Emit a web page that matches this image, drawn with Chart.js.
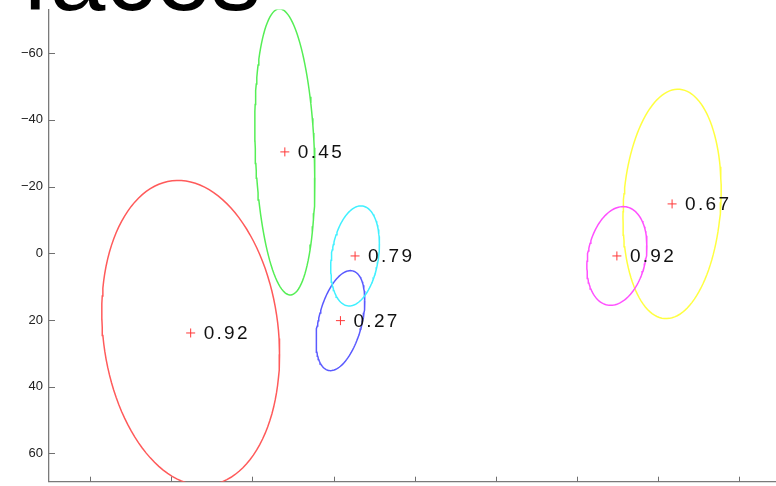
<!DOCTYPE html>
<html lang="en">
<head>
    <meta charset="UTF-8">
    <title>faces</title>
    <script src="https://cdn.jsdelivr.net/npm/chart.js"></script>
    <style>
        body, html {
            margin: 0;
            padding: 0;
            background: #fff;
            overflow: hidden;
        }
        canvas { display: block; }
    </style>
</head>
<body>
    <canvas id="facesChart" width="776" height="486"></canvas>

    <script>
        // cluster centres (x, y) and the label printed next to each one
        const centreX = [-55.2, -32.0, -14.7, -18.3, 49.8, 63.4];
        const centreY = [23.9, -30.4, 0.8, 20.2, 0.8, -14.8];
        const scores = ['0.92', '0.45', '0.79', '0.27', '0.92', '0.67'];
        // ellipse half-widths, half-heights and x/y correlation
        const spreadX = [21.9, 7.4, 6.0, 6.0, 7.4, 12.1];
        const spreadY = [45.75, 42.9, 15.0, 15.0, 14.8, 34.4];
        const corr = [0.14, 0.18, -0.24, -0.41, -0.21, -0.12];
        const colours = ['#ff5a5a', '#55ee55', '#40f0ff', '#5a5aff', '#ff50ff', '#ffff40'];
        const yTicks = [-60, -40, -20, 0, 20, 40, 60];

        function ellipse(i) {
            const pts = [];
            const s = Math.sqrt(1 - corr[i] * corr[i]);
            for (let k = 0; k <= 120; k++) {
                const t = k / 120 * 2 * Math.PI;
                pts.push({
                    x: centreX[i] + spreadX[i] * Math.cos(t),
                    y: centreY[i] + spreadY[i] * (corr[i] * Math.cos(t) + s * Math.sin(t))
                });
            }
            return pts;
        }

        const datasets = centreX.map((_, i) => ({
            data: ellipse(i),
            showLine: true,
            pointRadius: 0,
            borderColor: colours[i],
            borderWidth: 1.5,
            fill: false
        }));
        datasets.push({
            data: centreX.map((x, i) => ({ x: x, y: centreY[i] })),
            pointStyle: 'cross',
            pointRadius: 4.5,
            borderColor: '#ff3838',
            borderWidth: 1,
            showLine: false
        });

        // MATLAB style ticks pointing into the plot
        const innerTicks = {
            id: 'innerTicks',
            afterDraw(chart) {
                const { ctx, scales: { x, y }, chartArea } = chart;
                ctx.save();
                ctx.strokeStyle = '#707070';
                ctx.lineWidth = 1;
                ctx.beginPath();
                x.ticks.forEach(t => {
                    const px = Math.round(x.getPixelForValue(t.value)) + 0.5;
                    ctx.moveTo(px, chartArea.bottom);
                    ctx.lineTo(px, chartArea.bottom - 5);
                });
                y.ticks.forEach(t => {
                    const py = Math.round(y.getPixelForValue(t.value)) + 0.5;
                    ctx.moveTo(chartArea.left, py);
                    ctx.lineTo(chartArea.left + 6, py);
                });
                ctx.stroke();
                ctx.restore();
            }
        };

        const scoreLabels = {
            id: 'scoreLabels',
            afterDatasetsDraw(chart) {
                const { ctx, scales: { x, y } } = chart;
                ctx.save();
                ctx.font = '19px "Liberation Sans", Arial, sans-serif';
                ctx.letterSpacing = '2.3px';
                ctx.fillStyle = '#111';
                ctx.textBaseline = 'middle';
                scores.forEach((s, i) => {
                    ctx.fillText(s, x.getPixelForValue(centreX[i]) + 13, y.getPixelForValue(centreY[i]) + 1);
                });
                ctx.restore();
            }
        };

        const bigTitle = {
            id: 'bigTitle',
            afterDraw(chart) {
                const ctx = chart.ctx;
                ctx.save();
                ctx.font = '100px "Liberation Sans", Arial, sans-serif';
                ctx.fillStyle = '#000';
                ctx.textBaseline = 'alphabetic';
                ctx.fillText('faces', 22, 10);
                ctx.restore();
            }
        };

        const noPad = (s) => {
            s.paddingTop = 0; s.paddingBottom = 0;
            s.paddingLeft = 0; s.paddingRight = 0;
        };

        new Chart(document.getElementById('facesChart'), {
            type: 'scatter',
            data: { datasets: datasets },
            options: {
                responsive: false,
                animation: false,
                layout: { autoPadding: false, padding: { top: 9.5, right: 0, left: 0, bottom: 0 } },
                plugins: { legend: { display: false }, tooltip: { enabled: false } },
                scales: {
                    x: {
                        type: 'linear',
                        min: -90.1,
                        max: 89,
                        ticks: { display: false, stepSize: 20, includeBounds: false },
                        grid: { display: false, drawTicks: false },
                        border: { display: true, color: '#7a7a7a', width: 1.3 },
                        afterFit: (s) => { s.height = 4.3; noPad(s); }
                    },
                    y: {
                        type: 'linear',
                        reverse: true,
                        min: -73.1,
                        max: 68.5,
                        afterBuildTicks: (s) => { s.ticks = yTicks.map(v => ({ value: v })); },
                        ticks: {
                            padding: 6,
                            color: '#222',
                            font: { family: '"Liberation Sans", Arial, sans-serif', size: 13 },
                            callback: (v) => v < 0 ? '\u2212' + Math.abs(v) : String(v)
                        },
                        grid: { display: false, drawTicks: false },
                        border: { display: true, color: '#7a7a7a', width: 1.3 },
                        afterFit: (s) => { s.width = 49; noPad(s); }
                    }
                }
            },
            plugins: [innerTicks, scoreLabels, bigTitle]
        });
    </script>
</body>
</html>
